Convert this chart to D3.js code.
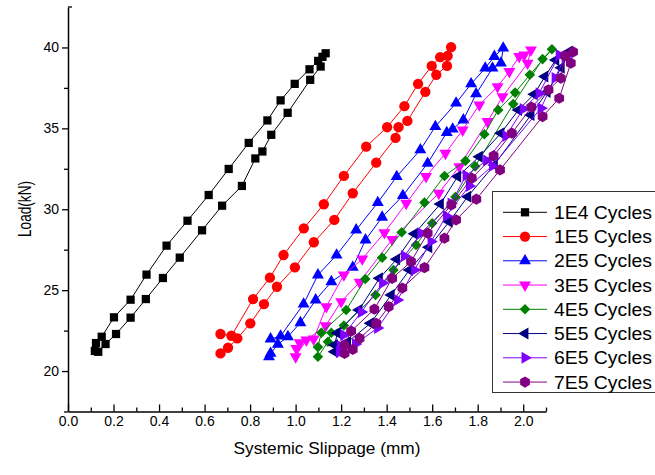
<!DOCTYPE html>
<html><head><meta charset="utf-8">
<script src="https://cdn.jsdelivr.net/npm/d3@7/dist/d3.min.js"></script>
<style>
body{margin:0;background:#fff}
svg{display:block}
text{font-family:Arial,"Liberation Sans",sans-serif;fill:#000}
</style>
</head><body>
<svg id="chart" width="655" height="475"></svg>
<script>
// ---------- data ----------
const seriesNames = ["1E4 Cycles","1E5 Cycles","2E5 Cycles","3E5 Cycles","4E5 Cycles","5E5 Cycles","6E5 Cycles","7E5 Cycles"];

const x1E4 = [0.118,0.123,0.148,0.202,0.275,0.345,0.433,0.525,0.618,0.706,0.794,0.876,0.934,0.996,1.061,1.099,1.132,1.118,1.110,1.064,0.965,0.893,0.854,0.823,0.764,0.677,0.589,0.491,0.417,0.342,0.275,0.211,0.165,0.133];
const y1E4 = [21.24,21.73,22.12,23.32,24.41,25.96,27.75,29.29,30.88,32.49,34.10,35.49,36.73,37.75,38.65,39.17,39.64,39.42,38.82,38.00,35.96,34.60,33.57,33.14,31.44,30.22,28.70,27.01,25.75,24.45,23.30,22.29,21.67,21.19];

const x1E5 = [0.670,0.703,0.744,0.801,0.861,0.918,0.997,1.080,1.170,1.251,1.354,1.439,1.452,1.491,1.570,1.618,1.665,1.668,1.683,1.635,1.598,1.538,1.478,1.402,1.310,1.212,1.124,1.036,0.947,0.887,0.813,0.718,0.670];
const y1E5 = [21.09,21.44,22.02,22.95,24.14,25.21,26.41,27.96,29.34,30.99,32.88,34.41,35.07,35.46,37.25,38.31,38.86,39.48,40.02,39.40,38.86,37.75,36.37,35.07,33.87,32.06,30.31,28.82,27.17,25.77,24.45,22.18,22.29];

const x2E5 = [0.883,0.890,0.922,0.966,1.021,1.088,1.157,1.251,1.307,1.380,1.471,1.580,1.664,1.690,1.737,1.793,1.865,1.902,1.912,1.873,1.833,1.771,1.705,1.614,1.548,1.444,1.361,1.266,1.180,1.098,1.035,0.934,0.890];
const y2E5 = [20.88,21.09,21.65,22.12,22.99,24.39,25.52,26.41,28.10,29.51,30.84,32.84,34.74,34.95,35.52,37.13,38.72,39.03,39.96,39.44,38.72,37.75,36.56,35.11,33.67,32.02,30.41,28.72,27.17,25.94,24.14,22.16,21.98];

const x3E5 = [1.000,1.047,1.132,1.200,1.281,1.424,1.629,1.719,1.843,1.909,2.019,2.034,2.004,1.982,1.939,1.887,1.807,1.734,1.658,1.573,1.486,1.390,1.293,1.212,1.135,1.079,1.018,1.003];
const y3E5 = [20.88,21.92,22.80,24.29,25.49,28.14,30.99,32.63,35.42,36.96,39.03,39.85,39.54,39.44,38.51,37.58,36.45,34.90,33.46,32.02,30.37,28.55,26.93,25.94,23.98,21.98,21.75,21.40];

const x4E5 = [1.098,1.142,1.157,1.212,1.351,1.430,1.529,1.600,1.702,1.789,1.956,2.085,2.126,2.029,1.964,1.890,1.829,1.746,1.654,1.566,1.466,1.380,1.306,1.222,1.113,1.098];
const y4E5 = [20.88,21.81,22.37,22.81,24.70,26.25,27.79,29.13,30.76,32.65,36.51,39.28,39.89,38.31,37.21,36.14,34.64,32.99,32.06,30.41,28.58,27.01,25.69,23.77,22.37,21.48];

const x5E5 = [1.171,1.228,1.329,1.420,1.500,1.585,1.675,1.756,1.873,2.034,2.105,2.167,2.202,2.143,2.095,2.048,1.979,1.902,1.807,1.712,1.636,1.522,1.444,1.368,1.278,1.184,1.171];
const y5E5 = [21.19,21.79,22.95,24.70,26.25,27.65,29.23,30.78,32.74,35.83,37.25,38.74,39.75,39.23,38.20,37.11,36.14,34.70,33.25,32.02,30.33,28.48,26.91,25.73,23.77,22.35,21.61];

const x6E5 = [1.193,1.263,1.360,1.447,1.522,1.595,1.662,1.763,1.865,2.078,2.140,2.184,2.158,2.070,2.000,1.924,1.839,1.749,1.683,1.551,1.478,1.382,1.289,1.211,1.197];
const y6E5 = [21.18,21.67,22.66,24.39,26.25,28.00,29.59,31.44,32.68,36.25,38.12,39.42,39.54,37.17,36.20,34.53,33.01,32.09,30.36,28.52,27.11,25.44,23.65,22.23,21.55];

const x7E5 = [1.215,1.251,1.281,1.354,1.409,1.469,1.566,1.654,1.705,1.794,1.898,2.085,2.158,2.209,2.219,2.184,2.165,2.111,2.036,1.950,1.870,1.774,1.684,1.580,1.507,1.424,1.346,1.244,1.215];
const y7E5 = [21.09,21.34,22.02,22.95,23.98,25.13,26.39,28.21,29.34,30.62,32.43,35.73,36.86,39.03,39.73,39.48,38.10,37.38,36.31,34.70,33.30,31.92,30.27,28.52,26.76,25.73,23.82,22.47,21.61];

const xTickValues = [0.0,0.2,0.4,0.6,0.8,1.0,1.2,1.4,1.6,1.8,2.0];
const xMinorValues = [0.1,0.3,0.5,0.7,0.9,1.1,1.3,1.5,1.7,1.9,2.1];
const yTickValues = [20,25,30,35,40];
const yMinorValues = [17.5,22.5,27.5,32.5,37.5,42.5];

const xTitle = "Systemic Slippage (mm)";
const yTitle = "Load(kN)";

// ---------- styles ----------
const colors = ["#000000","#FF0000","#0000FF","#FF00FF","#008000","#000080","#8000FF","#800080"];
const xs = [x1E4,x1E5,x2E5,x3E5,x4E5,x5E5,x6E5,x7E5];
const ys = [y1E4,y1E5,y2E5,y3E5,y4E5,y5E5,y6E5,y7E5];

const hexagon = {
  draw(ctx, size) {
    const r = Math.sqrt(size / (1.5 * Math.sqrt(3)));
    for (let i = 0; i < 6; i++) {
      const a = Math.PI / 3 * i - Math.PI / 2;
      const px = r * Math.cos(a), py = r * Math.sin(a);
      if (i === 0) ctx.moveTo(px, py); else ctx.lineTo(px, py);
    }
    ctx.closePath();
  }
};
// [type, size, rotation]
const markers = [
  [d3.symbolSquare, 68, 0],
  [d3.symbolCircle, 84, 0],
  [d3.symbolTriangle, 62, 0],
  [d3.symbolTriangle, 62, 180],
  [d3.symbolSquare, 56, 45],
  [d3.symbolTriangle, 62, -90],
  [d3.symbolTriangle, 62, 90],
  [hexagon, 82, 0]
];

// ---------- chart ----------
const svg = d3.select("#chart");
const x = d3.scaleLinear().domain([0, 2.1]).range([68, 546]);
const y = d3.scaleLinear().domain([17.5, 42.5]).range([411.5, 7]);

const line = d3.line().x(d => x(d[0])).y(d => y(d[1]));

xs.forEach((xa, i) => {
  const pts = xa.map((v, j) => [v, ys[i][j]]);
  const g = svg.append("g");
  g.append("path").datum(pts).attr("d", line)
    .attr("fill", "none").attr("stroke", colors[i]).attr("stroke-width", 1);
  const sym = d3.symbol().type(markers[i][0]).size(markers[i][1]);
  g.selectAll("path.m").data(pts).join("path").attr("class", "m")
    .attr("d", sym)
    .attr("transform", d => `translate(${x(d[0])},${y(d[1])}) rotate(${markers[i][2]})`)
    .attr("fill", colors[i]);
});

// axes
const axX = svg.append("g").attr("transform", `translate(0,${y(17.5)})`)
  .call(d3.axisBottom(x).tickValues(xTickValues).tickSizeInner(-7).tickSizeOuter(0).tickPadding(5).tickFormat(d3.format(".1f")));
const axXm = svg.append("g").attr("transform", `translate(0,${y(17.5)})`)
  .call(d3.axisBottom(x).tickValues(xMinorValues).tickSizeInner(-4).tickSizeOuter(0).tickFormat(""));
axXm.select(".domain").remove();

const axY = svg.append("g").attr("transform", `translate(${x(0)},0)`)
  .call(d3.axisLeft(y).tickValues(yTickValues).tickSizeInner(6).tickSizeOuter(0).tickPadding(3));
const axYm = svg.append("g").attr("transform", `translate(${x(0)},0)`)
  .call(d3.axisLeft(y).tickValues(yMinorValues.slice(0, -1)).tickSizeInner(4).tickSizeOuter(0).tickFormat(""));
axYm.select(".domain").remove();
svg.append("line").attr("x1", x(0)).attr("x2", x(0) + 4).attr("y1", y(42.5)).attr("y2", y(42.5))
  .attr("stroke", "#000").attr("stroke-width", 1.3);

[axX, axXm, axY, axYm].forEach(a => {
  a.selectAll(".domain").attr("stroke", "#000").attr("stroke-width", 1.5);
  a.selectAll(".tick line").attr("stroke", "#000").attr("stroke-width", 1.3);
  a.selectAll(".tick text").attr("font-size", 14).attr("font-family", "Arial, 'Liberation Sans', sans-serif").attr("fill", "#000");
});

// titles
svg.append("text").attr("x", 327).attr("y", 454).attr("text-anchor", "middle")
  .attr("font-size", 17).attr("textLength", 187).attr("lengthAdjust", "spacingAndGlyphs").text(xTitle);
svg.append("text").attr("transform", "translate(31,209) rotate(-90)").attr("text-anchor", "middle")
  .attr("font-size", 18).attr("textLength", 56).attr("lengthAdjust", "spacingAndGlyphs").text(yTitle);

// legend
const lg = svg.append("g");
lg.append("rect").attr("x", 492.5).attr("y", 191.5).attr("width", 170).attr("height", 201)
  .attr("fill", "#fff").attr("stroke", "#333").attr("stroke-width", 1);
seriesNames.forEach((name, i) => {
  const cy = 212.3 + i * 24.25;
  lg.append("line").attr("x1", 503).attr("x2", 547).attr("y1", cy).attr("y2", cy)
    .attr("stroke", colors[i]).attr("stroke-width", 1);
  lg.append("path").attr("d", d3.symbol().type(markers[i][0]).size(markers[i][1]))
    .attr("transform", `translate(525,${cy}) rotate(${markers[i][2]})`).attr("fill", colors[i]);
  lg.append("text").attr("x", 554).attr("y", cy + 6.5).attr("font-size", 18)
    .attr("textLength", 98).attr("lengthAdjust", "spacingAndGlyphs").text(name);
});
</script>
</body></html>
